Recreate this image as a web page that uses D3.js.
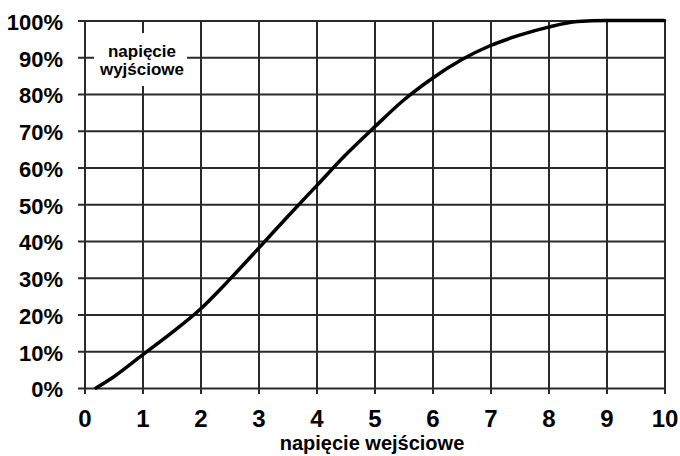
<!DOCTYPE html>
<html>
<head>
<meta charset="utf-8">
<script src="https://cdn.jsdelivr.net/npm/d3@7"></script>
<style>
  html, body { margin: 0; padding: 0; background: #fff; }
  svg { display: block; font-family: "Liberation Sans", Arial, sans-serif; font-weight: bold; }
</style>
</head>
<body>
<svg id="chart" width="680" height="456"></svg>
<script>
// ---- data ----
const inputVoltage = [0.2, 0.5, 1, 1.5, 2, 2.5, 3, 3.5, 4, 4.5, 5, 5.5, 6, 6.5, 7, 7.5, 8, 8.5, 9, 9.5, 10];
const outputPercent = [0, 3, 9, 15, 21.5, 29.5, 38, 46.6, 55, 63.4, 71, 78.3, 84.3, 89.3, 93.2, 96, 98.2, 99.7, 100, 100, 100];
const xTicks = [0, 1, 2, 3, 4, 5, 6, 7, 8, 9, 10];
const yTicks = [0, 10, 20, 30, 40, 50, 60, 70, 80, 90, 100];
const xTitle = "napięcie wejściowe";
const yTitleLines = ["napięcie", "wyjściowe"];

// ---- layout ----
const svg = d3.select("#chart");
const plotLeft = 84.5, plotRight = 664.5, plotTop = 20.5, plotBottom = 388;
const x = d3.scaleLinear().domain([0, 10]).range([plotLeft, plotRight]);
const y = d3.scaleLinear().domain([0, 100]).range([plotBottom, plotTop]);
const gridColor = "#2a2a2a";

// horizontal grid + y labels
const yAxis = d3.axisLeft(y)
  .tickValues(yTicks)
  .tickSize(plotRight - 78)
  .tickPadding(15)
  .tickFormat(d => d + "%");
const gy = svg.append("g").attr("transform", `translate(${plotRight},0)`).call(yAxis);
gy.select(".domain").remove();
gy.selectAll(".tick line").attr("stroke", gridColor).attr("stroke-width", 2);
gy.selectAll(".tick text")
  .attr("fill", "#000")
  .attr("font-size", 22)
  .attr("font-family", "'Liberation Sans', Arial, sans-serif")
  .attr("font-weight", "bold")
  .attr("dy", "0.4em");

// vertical grid + x labels
const xAxis = d3.axisBottom(x)
  .tickValues(xTicks)
  .tickSize(394 - plotTop)
  .tickPadding(16)
  .tickFormat(d3.format("d"));
const gx = svg.append("g").attr("transform", `translate(0,${plotTop})`).call(xAxis);
gx.select(".domain").remove();
gx.selectAll(".tick line").attr("stroke", gridColor).attr("stroke-width", 2);
gx.selectAll(".tick text")
  .attr("fill", "#000")
  .attr("font-size", 24)
  .attr("font-family", "'Liberation Sans', Arial, sans-serif")
  .attr("font-weight", "bold");

// curve
const pts = inputVoltage.map((v, i) => [v, outputPercent[i]]);
const line = d3.line()
  .x(d => x(d[0]))
  .y(d => y(d[1]))
  .curve(d3.curveMonotoneX);
svg.append("path")
  .datum(pts)
  .attr("d", line)
  .attr("fill", "none")
  .attr("stroke", "#000")
  .attr("stroke-width", 3.5)
  .attr("stroke-linejoin", "round")
  .attr("stroke-linecap", "round");

// y title box
svg.append("rect")
  .attr("x", 94).attr("y", 33)
  .attr("width", 93).attr("height", 53)
  .attr("fill", "#fff");
const yt = svg.append("text")
  .attr("text-anchor", "middle")
  .attr("font-size", 17)
  .attr("fill", "#000");
yTitleLines.forEach((t, i) => {
  yt.append("tspan").attr("x", 142).attr("y", 56.5 + i * 18.5).text(t);
});

// x title
svg.append("text")
  .attr("x", 372).attr("y", 450)
  .attr("text-anchor", "middle")
  .attr("font-size", 20)
  .attr("fill", "#000")
  .text(xTitle);
</script>
</body>
</html>
